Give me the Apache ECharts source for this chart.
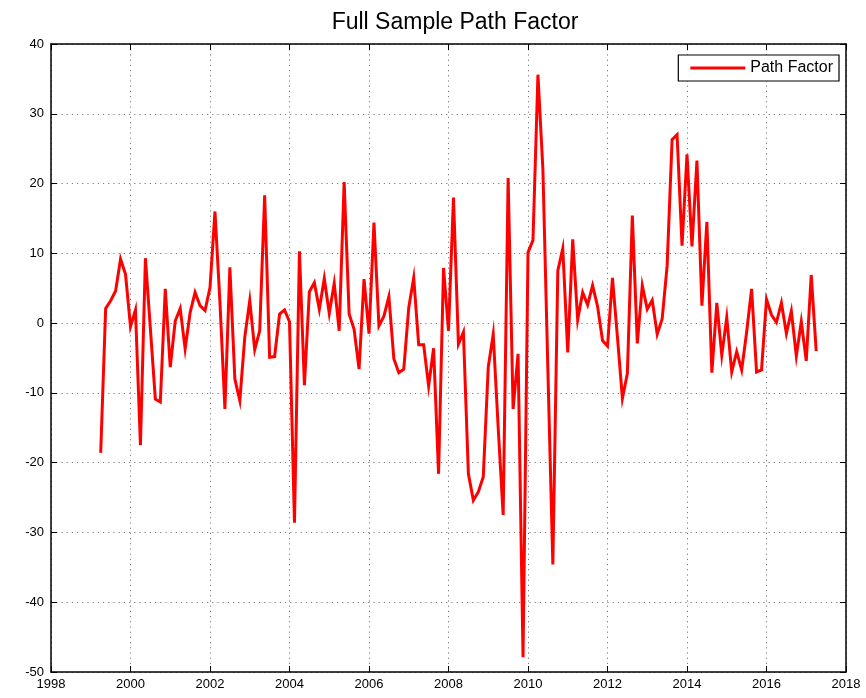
<!DOCTYPE html>
<html>
<head>
<meta charset="utf-8">
<script src="https://cdn.jsdelivr.net/npm/echarts@6/dist/echarts.min.js"></script>
<style>
html,body{margin:0;padding:0;background:#fff;}
#chart{width:866px;height:698px;}
</style>
</head>
<body>
<div id="chart"></div>
<script>
// Meetings are roughly 8 per year, starting in spring 1999
const startYear = 1999.25;
const perYear = 8;
const pathFactor = [
  -18.6, 2.1, 3.2, 4.6, 9.2, 7.0, -0.5, 1.9, -17.5, 9.3, -0.8, -10.9, -11.3, 4.9, -6.3, 0.3, 2.1, -3.7, 1.5, 4.4, 2.5, 1.8, 5.1, 16.0, 3.0, -12.3, 8.0,
  -8.0, -11.1, -2.0, 3.2, -3.8, -1.1, 18.3, -4.9, -4.8, 1.3, 1.9, 0.2, -28.6, 10.3, -8.9, 4.5, 5.8, 2.0, 6.4, 1.4, 5.7, -1.1, 20.2, 1.3, -0.9, -6.6, 6.3,
  -1.5, 14.4, -0.4, 1.0, 3.8, -5.1, -7.1, -6.6, 2.2, 6.5, -3.1, -3.1, -9.0, -3.6, -21.6, 7.9, -1.1, 18.0, -3.0, -1.3, -21.6, -25.4, -24.2, -22.0, -6.3, -1.6, -15.0,
  -27.5, 20.8, -12.3, -4.4, -47.9, 10.1, 11.9, 35.6, 22.0, -6.7, -34.6, 7.5, 10.7, -4.2, 12.0, 0.5, 4.4, 2.6, 5.4, 2.4, -2.5, -3.3, 6.5, -2.0, -10.8, -7.2, 15.4,
  -2.9, 5.4, 2.0, 3.3, -1.6, 0.6, 8.2, 26.3, 27.0, 11.1, 24.2, 11.0, 23.3, 2.5, 14.5, -7.1, 2.9, -4.6, 0.8, -7.0, -4.1, -6.7, -1.3, 4.9, -7.0, -6.7, 3.4,
  1.2, 0.1, 2.9, -1.5, 1.7, -4.7, 0.2, -5.4, 6.9, -4.0
];
const xTicks = [1998, 2000, 2002, 2004, 2006, 2008, 2010, 2012, 2014, 2016, 2018];
const yTicks = [-50, -40, -30, -20, -10, 0, 10, 20, 30, 40];
const titleText = 'Full Sample Path Factor';
const seriesName = 'Path Factor';

const seriesData = pathFactor.map((v, i) => [startYear + i / perYear, v]);

const font = 'Liberation Sans, Arial, Helvetica, sans-serif';
const axisLine = { show: true, onZero: false, lineStyle: { color: '#000', width: 1.5 } };
const tickIn = { show: true, inside: true, length: 6, lineStyle: { color: '#000', width: 1 } };
const gridLine = { show: true, lineStyle: { color: '#7a7a7a', type: [1.2, 4], width: 1 } };

const chart = echarts.init(document.getElementById('chart'), null, { renderer: 'canvas' });
chart.setOption({
  backgroundColor: '#fff',
  animation: false,
  title: {
    text: titleText,
    left: 450, textAlign: 'center', top: 6,
    textStyle: { fontFamily: font, fontSize: 23, fontWeight: 'normal', color: '#000' }
  },
  legend: {
    data: [seriesName],
    right: 27, top: 55,
    backgroundColor: '#fff',
    borderColor: '#000', borderWidth: 1.2,
    padding: [5, 6, 5, 12],
    itemWidth: 55, itemHeight: 3, itemGap: 6,
    icon: 'rect',
    textStyle: { fontFamily: font, fontSize: 16, color: '#000', width: 84 }
  },
  grid: { left: 51, right: 20, top: 44, bottom: 26, containLabel: false },
  xAxis: [
    {
      type: 'value', min: xTicks[0], max: xTicks[xTicks.length - 1], interval: 2,
      axisLine: axisLine, axisTick: tickIn, splitLine: gridLine,
      axisLabel: { color: '#000', fontFamily: font, fontSize: 13, margin: 6, showMinLabel: true, showMaxLabel: true,
        formatter: v => String(v) }
    },
    {
      type: 'value', position: 'top', min: xTicks[0], max: xTicks[xTicks.length - 1], interval: 2,
      axisLine: axisLine, axisTick: tickIn, splitLine: { show: false }, axisLabel: { show: false }
    }
  ],
  yAxis: [
    {
      type: 'value', min: yTicks[0], max: yTicks[yTicks.length - 1], interval: 10,
      axisLine: axisLine, axisTick: tickIn, splitLine: gridLine,
      axisLabel: { color: '#000', fontFamily: font, fontSize: 13, margin: 7 }
    },
    {
      type: 'value', position: 'right', min: yTicks[0], max: yTicks[yTicks.length - 1], interval: 10,
      axisLine: axisLine, axisTick: tickIn, splitLine: { show: false }, axisLabel: { show: false }
    }
  ],
  series: [
    {
      name: seriesName, type: 'line', data: seriesData,
      xAxisIndex: 0, yAxisIndex: 0,
      showSymbol: false, symbol: 'none',
      lineStyle: { color: '#ff0000', width: 3, join: 'miter' },
      itemStyle: { color: '#ff0000' },
      z: 3
    }
  ]
});
</script>
</body>
</html>
